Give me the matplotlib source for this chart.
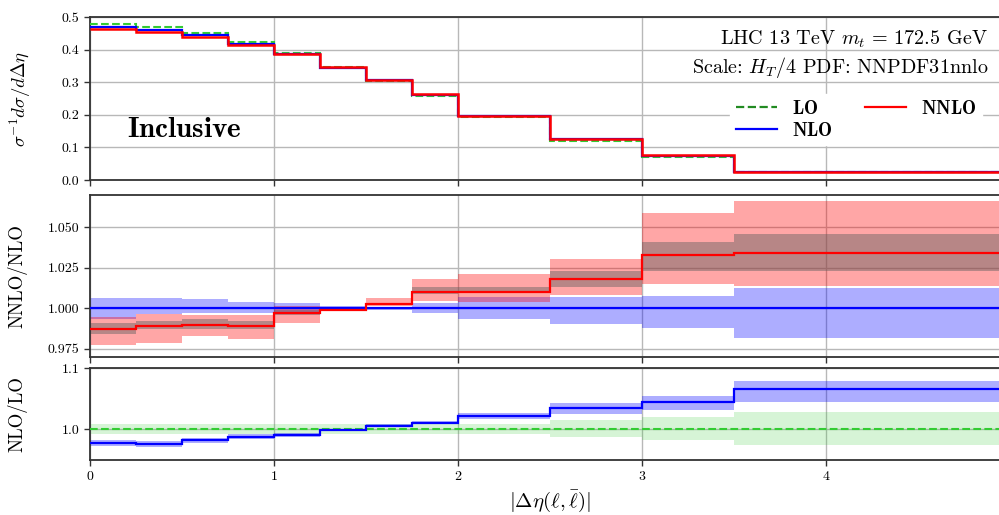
import matplotlib.pyplot as plt
from matplotlib.lines import Line2D

plt.rcParams['font.family'] = 'cmr10'
plt.rcParams['mathtext.fontset'] = 'cm'
plt.rcParams['axes.formatter.use_mathtext'] = True
plt.rcParams['axes.unicode_minus'] = False

# bin edges in |delta eta(l, lbar)|
edges = [0, 0.25, 0.5, 0.75, 1.0, 1.25, 1.5, 1.75, 2.0, 2.5, 3.0, 3.5, 5.0]

# normalised distributions
lo = [0.479, 0.470, 0.451, 0.422, 0.390, 0.346, 0.304, 0.258, 0.192, 0.121, 0.071, 0.0235]
nlo = [0.469, 0.459, 0.444, 0.418, 0.386, 0.345, 0.306, 0.261, 0.196, 0.125, 0.074, 0.025]
nnlo = [0.463, 0.454, 0.440, 0.414, 0.385, 0.346, 0.306, 0.263, 0.197, 0.126, 0.076, 0.0245]

# NNLO/NLO ratio and bands
nnlo_nlo = [0.9871, 0.9891, 0.9898, 0.9891, 0.9973, 0.9993, 1.0029, 1.0102, 1.0102, 1.0182, 1.033, 1.0342]
nnlo_scale_lo = [0.9775, 0.9789, 0.983, 0.981, 0.9912, 0.9985, 1.0014, 1.0045, 1.004, 1.008, 1.0152, 1.0137]
nnlo_scale_hi = [0.9947, 0.9967, 0.9957, 0.9957, 1.0014, 1.0003, 1.0066, 1.0182, 1.0213, 1.0307, 1.0588, 1.0663]
nnlo_err_lo = [0.984, 0.9871, 0.9875, 0.987, 0.996, 0.9988, 1.002, 1.009, 1.0092, 1.013, 1.0233, 1.0233]
nnlo_err_hi = [0.9912, 0.9922, 0.9932, 0.992, 0.999, 1.0, 1.0035, 1.013, 1.013, 1.0233, 1.041, 1.0459]
nlo_scale_lo = [0.9937, 0.9967, 0.9973, 0.9973, 0.9967, 0.9983, 0.999, 0.9973, 0.9937, 0.9906, 0.9877, 0.982]
nlo_scale_hi = [1.0066, 1.0066, 1.0055, 1.0041, 1.0035, 1.0014, 1.001, 1.0035, 1.0069, 1.0069, 1.0076, 1.0125]

# NLO/LO ratio and bands
nlo_lo = [0.9776, 0.976, 0.982, 0.988, 0.990, 0.9984, 1.006, 1.0104, 1.0213, 1.035, 1.0448, 1.065]
nlo_lo_band_lo = [0.9727, 0.972, 0.978, 0.985, 0.987, 0.997, 1.003, 1.008, 1.0175, 1.025, 1.031, 1.0448]
nlo_lo_band_hi = [0.983, 0.981, 0.986, 0.992, 0.994, 1.0005, 1.009, 1.013, 1.027, 1.043, 1.054, 1.0787]
lo_band_lo = [0.992, 0.992, 0.992, 0.992, 0.992, 0.992, 0.992, 0.992, 0.992, 0.987, 0.982, 0.975]
lo_band_hi = [1.008, 1.008, 1.008, 1.008, 1.008, 1.008, 1.008, 1.008, 1.009, 1.015, 1.020, 1.028]

c_lo = '#33cc33'
c_nlo = '#0000ff'
c_nnlo = '#ff0000'

fig = plt.figure(figsize=(9.99, 5.15), dpi=100)
left, width = 0.0901, 0.921
ax1 = fig.add_axes([left, 0.6505, width, 0.3165])
ax2 = fig.add_axes([left, 0.3068, width, 0.3146])
ax3 = fig.add_axes([left, 0.1068, width, 0.1786])

for ax in (ax1, ax2, ax3):
    ax.set_xlim(0, 5)
    ax.set_xticks([0, 1, 2, 3, 4])
    ax.grid(True, color='#b8b8b8', lw=1.0)
    ax.set_axisbelow(True)
    ax.tick_params(direction='out', length=4, width=1.0, labelsize=10, color='#333333')
    for s in ax.spines.values():
        s.set_linewidth(1.3)
        s.set_color('#333333')

# top: distributions
ax1.stairs(lo, edges, baseline=None, color=c_lo, ls='--', lw=1.5, zorder=3)
ax1.stairs(nlo, edges, baseline=None, color=c_nlo, lw=1.6, zorder=4)
ax1.stairs(nnlo, edges, baseline=None, color=c_nnlo, lw=1.8, zorder=5)
ax1.set_ylim(0, 0.5)
ax1.set_yticks([0.0, 0.1, 0.2, 0.3, 0.4, 0.5])
ax1.set_yticklabels(['0.0', '0.1', '0.2', '0.3', '0.4', '0.5'])
ax1.tick_params(labelbottom=False)
ax1.set_ylabel(r'$\sigma^{-1}d\sigma/d\Delta\eta$', fontsize=13.5)
ax1.yaxis.set_label_coords(-0.062, 0.5)
ax1.text(0.2, 0.132, r'$\mathbf{Inclusive}$', fontsize=21, ha='left', va='baseline')
ax1.text(0.976, 0.865, r'LHC 13 TeV $m_t\,=\,172.5$ GeV', transform=ax1.transAxes,
         ha='right', va='center', fontsize=14.5)
ax1.text(0.976, 0.693, r'Scale: $H_T/4$ PDF: NNPDF31nnlo', transform=ax1.transAxes,
         ha='right', va='center', fontsize=14.5)
handles = [Line2D([], [], color='#228b22', ls='--', lw=1.6),
           Line2D([], [], color=c_nlo, lw=1.6),
           Line2D([], [], color=c_nnlo, lw=1.6)]
leg = ax1.legend(handles, [r'$\mathbf{LO}$', r'$\mathbf{NLO}$', r'$\mathbf{NNLO}$'],
                 ncol=2, loc='upper right', bbox_to_anchor=(0.98, 0.585), fontsize=13.5,
                 frameon=True, framealpha=1, edgecolor='white', fancybox=False,
                 handlelength=2.2, columnspacing=1.7, labelspacing=0.22, borderpad=0.3)

# middle: NNLO/NLO
ax2.stairs(nlo_scale_hi, edges, baseline=nlo_scale_lo, fill=True, color=c_nlo, alpha=0.32, lw=0, zorder=2)
ax2.stairs(nnlo_scale_hi, edges, baseline=nnlo_scale_lo, fill=True, color=c_nnlo, alpha=0.35, lw=0, zorder=2)
ax2.stairs(nnlo_err_hi, edges, baseline=nnlo_err_lo, fill=True, color='#606060', alpha=0.45, lw=0, zorder=2)
ax2.stairs([1.0] * len(nlo), edges, baseline=None, color=c_nlo, lw=1.6, zorder=4)
ax2.stairs(nnlo_nlo, edges, baseline=None, color=c_nnlo, lw=1.6, zorder=5)
ax2.set_ylim(0.97, 1.07)
ax2.set_yticks([0.975, 1.0, 1.025, 1.05])
ax2.set_yticklabels(['0.975', '1.000', '1.025', '1.050'])
ax2.tick_params(labelbottom=False)
ax2.set_ylabel('NNLO/NLO', fontsize=13.5)
ax2.yaxis.set_label_coords(-0.068, 0.5)

# bottom: NLO/LO
ax3.stairs(lo_band_hi, edges, baseline=lo_band_lo, fill=True, color=c_lo, alpha=0.2, lw=0, zorder=2)
ax3.stairs(nlo_lo_band_hi, edges, baseline=nlo_lo_band_lo, fill=True, color=c_nlo, alpha=0.32, lw=0, zorder=2)
ax3.stairs([1.0] * len(lo), edges, baseline=None, color=c_lo, ls='--', lw=1.5, zorder=4)
ax3.stairs(nlo_lo, edges, baseline=None, color=c_nlo, lw=1.6, zorder=5)
ax3.set_ylim(0.95, 1.1)
ax3.set_yticks([1.0, 1.1])
ax3.set_yticklabels(['1.0', '1.1'])
ax3.set_ylabel('NLO/LO', fontsize=13.5)
ax3.yaxis.set_label_coords(-0.068, 0.5)
ax3.set_xlabel(r'$|\Delta\eta(\ell,\bar{\ell})|$', fontsize=15)

fig.savefig('out.png', dpi=100)
